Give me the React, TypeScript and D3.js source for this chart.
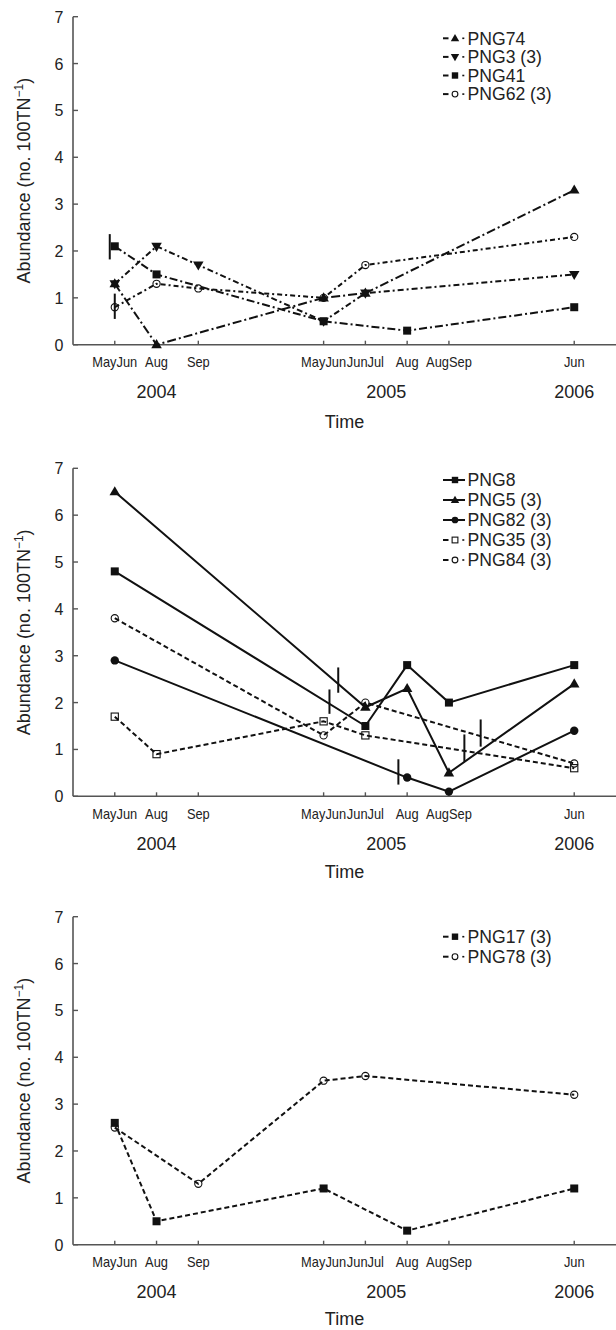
import React from "react";
import * as d3 from "d3";

// ---------- shared axis data ----------
const xTickPositions = [0, 1, 2, 5, 6, 7, 8, 11];
const xTickLabels = ["MayJun", "Aug", "Sep", "MayJun", "JunJul", "Aug", "AugSep", "Jun"];
const yearLabels = ["2004", "2005", "2006"];
const yearPositions = [1, 6.5, 11];
const yTicks = [0, 1, 2, 3, 4, 5, 6, 7];

// ---------- panel 1 ----------
const png74X = [0, 1, 5, 6, 11];
const png74Y = [1.3, 0, 1.0, 1.1, 3.3];
const png3X = [0, 1, 2, 5, 6, 11];
const png3Y = [1.3, 2.1, 1.7, 0.5, 1.1, 1.5];
const png41X = [0, 1, 5, 7, 11];
const png41Y = [2.1, 1.5, 0.5, 0.3, 0.8];
const png62X = [0, 1, 2, 5, 6, 11];
const png62Y = [0.8, 1.3, 1.2, 1.0, 1.7, 2.3];
const p1ErrX = [-0.12, 0];
const p1ErrY = [2.09, 0.82];
const p1ErrE = [0.27, 0.27];

// ---------- panel 2 ----------
const png8X = [0, 6, 7, 8, 11];
const png8Y = [4.8, 1.5, 2.8, 2.0, 2.8];
const png5X = [0, 6, 7, 8, 11];
const png5Y = [6.5, 1.9, 2.3, 0.5, 2.4];
const png82X = [0, 7, 8, 11];
const png82Y = [2.9, 0.4, 0.1, 1.4];
const png35X = [0, 1, 5, 6, 11];
const png35Y = [1.7, 0.9, 1.6, 1.3, 0.6];
const png84X = [0, 5, 6, 11];
const png84Y = [3.8, 1.3, 2.0, 0.7];
const p2ErrX = [5.35, 5.14, 6.79, 8.37, 8.76];
const p2ErrY = [2.48, 2.02, 0.52, 1.03, 1.35];
const p2ErrE = [0.27, 0.26, 0.27, 0.29, 0.29];

// ---------- panel 3 ----------
const png17X = [0, 1, 5, 7, 11];
const png17Y = [2.6, 0.5, 1.2, 0.3, 1.2];
const png78X = [0, 2, 5, 6, 11];
const png78Y = [2.5, 1.3, 3.5, 3.6, 3.2];

type Series = { name: string; xs: number[]; ys: number[]; marker: string; dash: string | null };

const panels = [
  {
    top: 16.7,
    legendY: 38.3,
    legendStep: 18.6,
    timeDy: 83.5,
    series: [
      { name: "PNG74", xs: png74X, ys: png74Y, marker: "triUp", dash: "9,3,2,3" },
      { name: "PNG3 (3)", xs: png3X, ys: png3Y, marker: "triDown", dash: "6,3,2,3" },
      { name: "PNG41", xs: png41X, ys: png41Y, marker: "square", dash: "8,3,2,3" },
      { name: "PNG62 (3)", xs: png62X, ys: png62Y, marker: "openCircle", dash: "5,3,2,3" },
    ] as Series[],
    errX: p1ErrX,
    errY: p1ErrY,
    errE: p1ErrE,
  },
  {
    top: 468.3,
    legendY: 480,
    legendStep: 20,
    timeDy: 82,
    series: [
      { name: "PNG8", xs: png8X, ys: png8Y, marker: "square", dash: null },
      { name: "PNG5 (3)", xs: png5X, ys: png5Y, marker: "triUp", dash: null },
      { name: "PNG82 (3)", xs: png82X, ys: png82Y, marker: "circle", dash: null },
      { name: "PNG35 (3)", xs: png35X, ys: png35Y, marker: "openSquare", dash: "5,3" },
      { name: "PNG84 (3)", xs: png84X, ys: png84Y, marker: "openCircle", dash: "5,3" },
    ] as Series[],
    errX: p2ErrX,
    errY: p2ErrY,
    errE: p2ErrE,
  },
  {
    top: 916.7,
    legendY: 936.7,
    legendStep: 20,
    timeDy: 80,
    series: [
      { name: "PNG17 (3)", xs: png17X, ys: png17Y, marker: "square", dash: "5,3" },
      { name: "PNG78 (3)", xs: png78X, ys: png78Y, marker: "openCircle", dash: "5,3" },
    ] as Series[],
    errX: [] as number[],
    errY: [] as number[],
    errE: [] as number[],
  },
];

const FONT = "'Liberation Sans', Arial, Helvetica, sans-serif";
const INK = "#111";
const AXIS = "#555";
const PLOT_H = 328;

const x = d3.scaleLinear().domain([-1, 12]).range([73, 616]);

function Marker({ shape, cx, cy, k = 1 }: { shape: string; cx: number; cy: number; k?: number }) {
  const tri = d3.symbol(d3.symbolTriangle, 48 * k * k)() as string;
  switch (shape) {
    case "triUp":
      return <path d={tri} transform={`translate(${cx},${cy + 0.5})`} fill={INK} />;
    case "triDown":
      return <path d={tri} transform={`translate(${cx},${cy - 0.5}) rotate(180)`} fill={INK} />;
    case "square":
      return <rect x={cx - 4 * k} y={cy - 4 * k} width={8 * k} height={8 * k} fill={INK} />;
    case "circle":
      return <circle cx={cx} cy={cy} r={4.2 * k} fill={INK} />;
    case "openCircle":
      return <circle cx={cx} cy={cy} r={3.6 * k} fill="none" stroke={INK} strokeWidth={1.1} />;
    case "openSquare":
      return (
        <rect x={cx - 3.6 * k} y={cy - 3.6 * k} width={7.2 * k} height={7.2 * k} fill="none" stroke={INK} strokeWidth={1.1} />
      );
    default:
      return null;
  }
}

function Panel({ p }: { p: (typeof panels)[number] }) {
  const bottom = p.top + PLOT_H;
  const y = d3.scaleLinear().domain([0, 7]).range([bottom, p.top]);
  const line = d3
    .line<[number, number]>()
    .x((d) => x(d[0]))
    .y((d) => y(d[1]));
  const midY = (p.top + bottom) / 2;
  return (
    <g>
      {/* axes */}
      <line x1={x(-1)} x2={x(-1)} y1={y(7)} y2={y(0)} stroke={AXIS} strokeWidth={1.6} />
      <line x1={x(-1)} x2={616} y1={y(0)} y2={y(0)} stroke={AXIS} strokeWidth={1.6} />
      {yTicks.map((t) => (
        <g key={"yt" + t}>
          <line x1={x(-1)} x2={x(-1) + 5} y1={y(t)} y2={y(t)} stroke={AXIS} strokeWidth={1.4} />
          <text x={63.3} y={y(t) + 6} textAnchor="end" fontSize={16} fontFamily={FONT} fill="#222">
            {t}
          </text>
        </g>
      ))}
      {xTickPositions.map((t, i) => (
        <g key={"xt" + i}>
          <line x1={x(t)} x2={x(t)} y1={y(0)} y2={y(0) - 4} stroke={AXIS} strokeWidth={1.4} />
          <text
            transform={`translate(${x(t)},${bottom + 22.6}) scale(0.88,1)`}
            textAnchor="middle"
            fontSize={14.6}
            fontFamily={FONT}
            fill="#222"
          >
            {xTickLabels[i]}
          </text>
        </g>
      ))}
      {yearLabels.map((lab, i) => (
        <text key={lab} x={x(yearPositions[i])} y={bottom + 53.6} textAnchor="middle" fontSize={18} fontFamily={FONT} fill="#222">
          {lab}
        </text>
      ))}
      <text x={(x(-1) + 616) / 2} y={bottom + p.timeDy} textAnchor="middle" fontSize={18} fontFamily={FONT} fill="#222">
        Time
      </text>
      <text
        transform={`translate(${29.5},${midY}) rotate(-90)`}
        textAnchor="middle"
        fontSize={18}
        fontFamily={FONT}
        fill="#222"
      >
        <tspan>Abundance (no. 100TN</tspan>
        <tspan dy={-7} fontSize={12}>−1</tspan>
        <tspan dy={7}>)</tspan>
      </text>
      {/* series lines */}
      {p.series.map((s) => (
        <path
          key={s.name + "l"}
          d={line(s.xs.map((v, i) => [v, s.ys[i]]) as [number, number][]) as string}
          fill="none"
          stroke={INK}
          strokeWidth={2}
          strokeDasharray={s.dash ?? undefined}
        />
      ))}
      {/* error bars */}
      {p.errX.map((ex, i) => (
        <line
          key={"e" + i}
          x1={x(ex)}
          x2={x(ex)}
          y1={y(p.errY[i] - p.errE[i])}
          y2={y(p.errY[i] + p.errE[i])}
          stroke={INK}
          strokeWidth={2}
        />
      ))}
      {/* markers */}
      {p.series.map((s) =>
        s.xs.map((v, i) => <Marker key={s.name + i} shape={s.marker} cx={x(v)} cy={y(s.ys[i])} />)
      )}
      {/* legend */}
      {p.series.map((s, i) => {
        const cy = p.legendY + i * p.legendStep;
        return (
          <g key={s.name + "lg"}>
            {s.dash ? (
              <>
                <line x1={443} x2={448.5} y1={cy} y2={cy} stroke={INK} strokeWidth={2} />
                <line x1={462.3} x2={464.3} y1={cy} y2={cy} stroke={INK} strokeWidth={1.6} />
              </>
            ) : (
              <line x1={443} x2={465} y1={cy} y2={cy} stroke={INK} strokeWidth={2} />
            )}
            <Marker shape={s.marker} cx={455} cy={cy} k={0.8} />
            <text x={467.5} y={cy + 6.3} fontSize={17.6} fontFamily={FONT} fill="#222">
              {s.name}
            </text>
          </g>
        );
      })}
    </g>
  );
}

export default function App() {
  return (
    <svg
      width={616}
      height={1330}
      viewBox="0 0 616 1330"
      style={{ position: "absolute", left: 0, top: 0, background: "#fff" }}
    >
      <rect width={616} height={1330} fill="#fff" />
      {panels.map((p, i) => (
        <Panel key={i} p={p} />
      ))}
    </svg>
  );
}
